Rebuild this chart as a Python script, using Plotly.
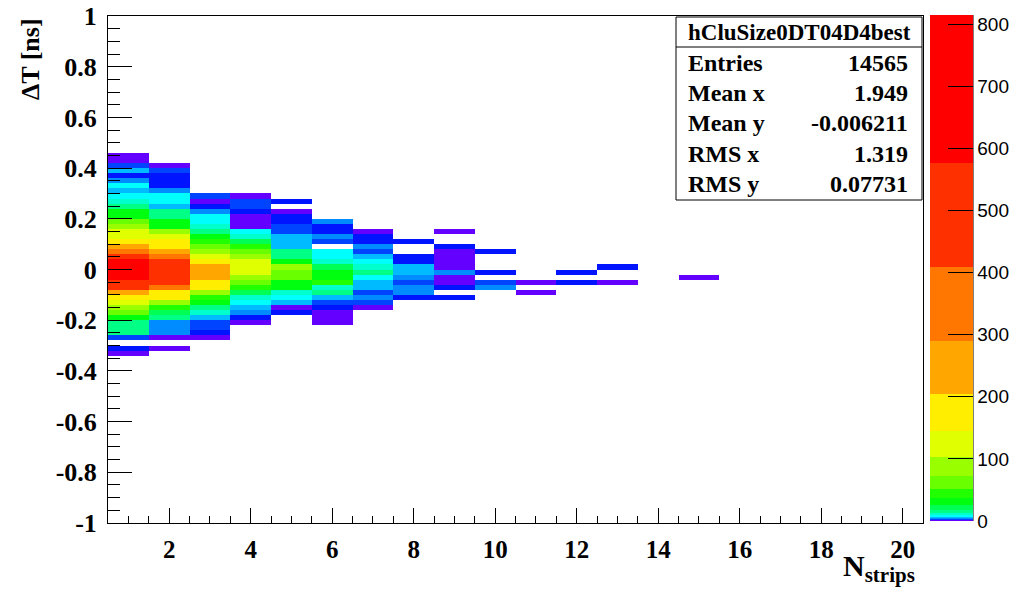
import colorsys
import numpy as np
import plotly.graph_objects as go

# ---------------- data: cluster size vs. time difference ----------------
# y binning: 100 bins of 0.02 ns between -1 and 1
dt_lo, dt_hi, dt_nbins = -1.0, 1.0, 100
n_strips = list(range(1, 21))

# counts per column, listed from the top bin downwards;
# *_top is the upper edge (ns) of the first listed bin
n01_top = 0.46
n01 = [1, 1, 3, 5, 2, 4, 8, 5, 8, 10, 15, 30, 35, 55, 80, 110, 130, 170, 250, 330,
       450, 640, 760, 815, 720, 540, 430, 260, 170, 110, 85, 55, 30, 16, 15, 13, 3, 0, 2, 1]
n02_top = 0.42
n02 = [1, 3, 2, 2, 2, 4, 8, 8, 5, 15, 18, 28, 35, 80, 115, 160, 180, 230, 380, 450,
       500, 520, 470, 420, 300, 180, 150, 90, 40, 20, 15, 4, 4, 4, 1, 0, 1]
n03_top = 0.30
n03 = [3, 1, 2, 4, 8, 8, 12, 15, 30, 45, 70, 90, 130, 180, 250, 270, 240, 170, 150, 80,
       45, 30, 15, 12, 5, 3, 3, 2, 1]
n04_top = 0.30
n04 = [1, 3, 3, 2, 1, 1, 1, 8, 10, 20, 45, 60, 85, 110, 130, 125, 95, 60, 40, 20,
       10, 8, 5, 4, 2, 1]
n05_top = 0.28
n05 = [2, 0, 1, 2, 2, 3, 3, 5, 5, 5, 15, 18, 30, 75, 70, 60, 35, 30, 12, 8, 5, 1, 2]
n06_top = 0.20
n06 = [4, 2, 2, 4, 3, 0, 8, 9, 12, 25, 30, 30, 40, 12, 15, 5, 3, 2, 1, 1, 1]
n07_top = 0.16
n07 = [1, 2, 2, 4, 3, 6, 8, 10, 15, 8, 6, 5, 3, 4, 3, 1]
n08_top = 0.12
n08 = [2, 0, 0, 2, 2, 5, 5, 4, 3, 4, 4, 2]
n09_top = 0.16
n09 = [1, 0, 0, 2, 1, 1, 1, 1, 4, 1, 1, 2, 0, 2]
n10_top = 0.08
n10 = [2, 0, 0, 0, 2, 0, 3, 4]
n11_top = -0.04
n11 = [1, 0, 1]
n12_top = 0.00
n12 = [2, 0, 2]
n13_top = 0.02
n13 = [2, 0, 0, 1]
n15_top = -0.02
n15 = [1]

stat_name = "hCluSize0DT04D4best"
stat_labels = ["Entries", "Mean x", "Mean y", "RMS x", "RMS y"]
stat_values = ["14565", "1.949", "-0.006211", "1.319", "0.07731"]

z_max = 815
cbar_ticks = [0, 100, 200, 300, 400, 500, 600, 700, 800]
y_ticks = [-1, -0.8, -0.6, -0.4, -0.2, 0, 0.2, 0.4, 0.6, 0.8, 1]
y_ticktext = ["-1", "-0.8", "-0.6", "-0.4", "-0.2", "0", "0.2", "0.4", "0.6", "0.8", "1"]

# ---------------- build the 2D grid ----------------
columns = {1: (n01_top, n01), 2: (n02_top, n02), 3: (n03_top, n03), 4: (n04_top, n04),
           5: (n05_top, n05), 6: (n06_top, n06), 7: (n07_top, n07), 8: (n08_top, n08),
           9: (n09_top, n09), 10: (n10_top, n10), 11: (n11_top, n11), 12: (n12_top, n12),
           13: (n13_top, n13), 15: (n15_top, n15)}
bw = (dt_hi - dt_lo) / dt_nbins
y_centers = [dt_lo + (i + 0.5) * bw for i in range(dt_nbins)]
grid = [[None] * len(n_strips) for _ in range(dt_nbins)]
for n, (top, vals) in columns.items():
    top_bin = int(round((top - dt_lo) / bw)) - 1
    for k, v in enumerate(vals):
        if v > 0:
            grid[top_bin - k][n - 1] = v

# ---------------- ROOT "pretty" palette on log-spaced contours ----------------
n_cont, n_col = 20, 50


def pal_color(idx):
    hue = 280.0 - (idx + 1) * (280.0 / n_col)
    r, g, b = colorsys.hls_to_rgb(hue / 360.0, 0.5, 1.0)
    return "rgb(%d,%d,%d)" % (round(r * 255), round(g * 255), round(b * 255))


band_cols = [pal_color(int((k + 0.99) * n_col / n_cont)) for k in range(n_cont)]
log_lo = np.log10(z_max) - 3.0
edges = [10 ** (log_lo + 3.0 * k / n_cont) / z_max for k in range(n_cont + 1)]
colorscale = [[0.0, band_cols[0]]]
for k in range(n_cont):
    colorscale.append([edges[k] if k > 0 else 0.0, band_cols[k]])
    colorscale.append([edges[k + 1], band_cols[k]])
colorscale[-1][0] = 1.0

# ---------------- geometry (pixels) ----------------
W, H = 1017, 592
L, R, T, B = 108, 923, 16, 523


def px(x):
    return (x - L) / (R - L)


def py(y):
    return (B - y) / (B - T)


serif = "Liberation Serif"
sans = "Liberation Sans"

fig = go.Figure()
fig.add_trace(go.Heatmap(
    x=n_strips, y=y_centers, z=grid,
    zmin=0, zmax=z_max, colorscale=colorscale, hoverongaps=False,
    colorbar=dict(
        x=px(930), xanchor="left", xpad=0,
        y=py(15), yanchor="top", ypad=0,
        len=506, lenmode="pixels", thickness=43, thicknessmode="pixels",
        outlinewidth=0,
        tickmode="array", tickvals=cbar_ticks,
        ticks="inside", ticklen=25, tickwidth=1, tickcolor="black",
        tickfont=dict(family=sans, size=19, color="black"),
    ),
))

axis_common = dict(showgrid=False, zeroline=False, showline=True, linecolor="black",
                   linewidth=1, mirror=True, ticks="inside", tickcolor="black", tickwidth=1)

fig.update_layout(
    width=W, height=H,
    margin=dict(l=L, r=W - R, t=T, b=H - B, pad=0, autoexpand=False),
    paper_bgcolor="white", plot_bgcolor="white",
    xaxis=dict(range=[0.5, 20.5], tickmode="linear", tick0=0, dtick=2, ticklen=15,
               minor=dict(tick0=0, dtick=0.5, ticklen=7, ticks="inside", tickcolor="black"),
               tickfont=dict(family=serif, size=25, color="black", weight="bold"),
               ticklabelstandoff=4,
               **axis_common),
    yaxis=dict(range=[-1, 1], tickmode="array", tickvals=y_ticks, ticktext=y_ticktext,
               ticklen=24,
               minor=dict(tick0=0, dtick=0.05, ticklen=12, ticks="inside", tickcolor="black"),
               tickfont=dict(family=serif, size=26, color="black", weight="bold"),
               ticklabelstandoff=5,
               **axis_common),
    showlegend=False,
)

# colour-axis line on the right of the palette
fig.add_shape(type="line", xref="paper", yref="paper", x0=px(973), x1=px(973),
              y0=py(15), y1=py(521), line=dict(color="black", width=1))

# axis titles
fig.add_annotation(xref="paper", yref="paper", x=px(917), y=py(568), xanchor="right",
                   yanchor="middle", showarrow=False,
                   text="N<sub>strips</sub>",
                   font=dict(family=serif, size=30, color="black", weight="bold"))
fig.add_annotation(xref="paper", yref="paper", x=px(30), y=py(16), xanchor="center",
                   yanchor="top", showarrow=False, textangle=-90,
                   text="ΔT [ns]",
                   font=dict(family=serif, size=26, color="black", weight="bold"))

# statistics box
bx0, bx1, by0, by1, bhead = 676, 922, 17, 200, 47
fig.add_shape(type="rect", xref="paper", yref="paper", x0=px(bx0), x1=px(bx1),
              y0=py(by1), y1=py(by0), line=dict(color="black", width=1),
              fillcolor="white", layer="above")
fig.add_shape(type="line", xref="paper", yref="paper", x0=px(bx0), x1=px(bx1),
              y0=py(bhead), y1=py(bhead), line=dict(color="black", width=1))
fig.add_annotation(xref="paper", yref="paper", x=px((bx0 + bx1) / 2), y=py(33),
                   xanchor="center", yanchor="middle", showarrow=False, text=stat_name,
                   font=dict(family=serif, size=23, color="black", weight="bold"))
row_y = [63, 93, 123, 154, 184]
for lab, val, yy in zip(stat_labels, stat_values, row_y):
    fig.add_annotation(xref="paper", yref="paper", x=px(686), y=py(yy), xanchor="left",
                       yanchor="middle", showarrow=False, text=lab,
                       font=dict(family=serif, size=24, color="black", weight="bold"))
    fig.add_annotation(xref="paper", yref="paper", x=px(910), y=py(yy), xanchor="right",
                       yanchor="middle", showarrow=False, text=val,
                       font=dict(family=serif, size=24, color="black", weight="bold"))

fig.write_html("out.html")
